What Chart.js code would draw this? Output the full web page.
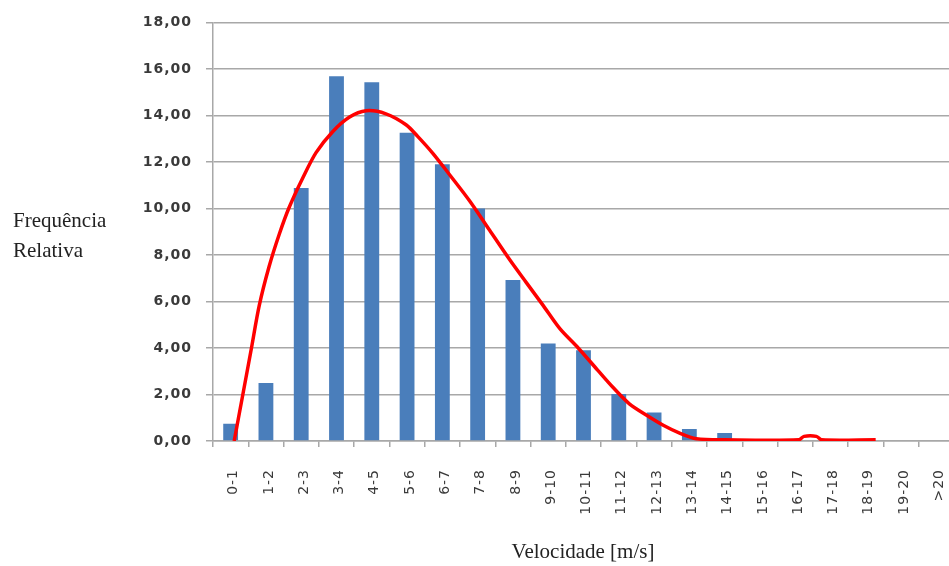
<!DOCTYPE html>
<html>
<head>
<meta charset="utf-8">
<title>Frequência relativa da velocidade do vento</title>
<script src="https://cdn.jsdelivr.net/npm/chart.js@4.4.1/dist/chart.umd.min.js"></script>
<style>
  html, body { margin: 0; padding: 0; background: #fff; overflow: hidden; }
  canvas { display: block; }
</style>
</head>
<body>
<canvas id="windChart" width="954" height="566"></canvas>
<script>
// classes de velocidade [m/s]
const classes = ["0-1", "1-2", "2-3", "3-4", "4-5", "5-6", "6-7", "7-8", "8-9", "9-10",
  "10-11", "11-12", "12-13", "13-14", "14-15", "15-16", "16-17", "17-18", "18-19", "19-20", ">20"];

// frequência relativa medida (%)
const freqMedida = [0.74, 2.49, 10.88, 15.68, 15.43, 13.26, 11.9, 10.0, 6.92, 4.19,
  3.9, 2.02, 1.23, 0.52, 0.34, 0, 0, 0, 0, 0, 0];

// curva ajustada: velocidade [m/s] e frequência (%)
const curvaVel = [0.6, 0.83, 1.09, 1.31, 1.59, 1.88, 2.16, 2.54, 2.92, 3.39, 3.86, 4.34,
  4.9, 5.47, 5.8, 6.23, 6.7, 7.27, 7.84, 8.41, 8.88, 9.36, 9.83, 10.35, 10.9, 11.34,
  11.8, 12.3, 12.76, 13.24, 13.7, 14.5, 16.6, 16.75, 17.1, 17.25, 18.78];
const curvaFreq = [0, 1.87, 4.0, 5.82, 7.5, 8.9, 10.05, 11.3, 12.4, 13.3, 13.92, 14.2,
  14.07, 13.6, 13.1, 12.37, 11.46, 10.33, 9.06, 7.79, 6.81, 5.82, 4.83, 4.0, 3.05, 2.3,
  1.6, 1.1, 0.68, 0.33, 0.1, 0.05, 0.05, 0.2, 0.2, 0.05, 0.05];

const yTicks = ["0,00", "2,00", "4,00", "6,00", "8,00", "10,00", "12,00", "14,00", "16,00", "18,00"];

const curvaPontos = curvaVel.map((v, i) => ({ x: v, y: curvaFreq[i] }));

const gridGray = "#a8a8a8";
const textGray = "#3a3a3a";

// espaçamento das letras dos eixos
const spacing = {
  id: "spacing",
  beforeLayout(chart) { chart.ctx.letterSpacing = "1px"; },
  beforeDraw(chart) { chart.ctx.letterSpacing = "1px"; }
};

// títulos dos eixos em serifa, horizontais
const axisTitles = {
  id: "axisTitles",
  afterDraw(chart) {
    const ctx = chart.ctx;
    ctx.save();
    ctx.letterSpacing = "0px";
    ctx.fillStyle = "#222";
    ctx.font = "21px 'Liberation Serif'";
    ctx.textBaseline = "alphabetic";
    ctx.textAlign = "left";
    ctx.fillText("Frequência", 13, 227);
    ctx.fillText("Relativa", 13, 257);
    ctx.textAlign = "center";
    ctx.fillText("Velocidade [m/s]", 583, 558);
    ctx.restore();
  }
};

new Chart(document.getElementById("windChart"), {
  type: "bar",
  data: {
    labels: classes,
    datasets: [
      {
        type: "line",
        data: curvaPontos,
        xAxisID: "x2",
        borderColor: "#ff0000",
        borderWidth: 3.5,
        pointRadius: 0,
        tension: 0.3,
        fill: false,
        order: 0
      },
      {
        data: freqMedida,
        backgroundColor: "#4a7ebb",
        grouped: false,
        barPercentage: 0.42,
        categoryPercentage: 1,
        order: 1
      }
    ]
  },
  options: {
    responsive: false,
    devicePixelRatio: 1,
    animation: false,
    layout: { padding: { top: 15, left: 0, right: 0, bottom: 0 } },
    plugins: {
      legend: { display: false },
      tooltip: { enabled: false }
    },
    scales: {
      x: {
        offset: true,
        grid: { drawOnChartArea: false, drawTicks: true, tickLength: 6, color: gridGray, lineWidth: 1.5 },
        border: { color: gridGray, width: 1.5 },
        ticks: {
          minRotation: 90, maxRotation: 90, autoSkip: false, padding: 22, labelOffset: 3,
          color: textGray,
          font: { family: "'DejaVu Sans'", size: 14 }
        },
        afterFit(scale) {
          scale.height = 125;
          scale.paddingLeft = 0;
          scale.paddingRight = 0;
        }
      },
      x2: {
        type: "linear",
        display: false,
        offset: false,
        min: 0,
        max: classes.length
      },
      y: {
        min: 0,
        max: 18,
        ticks: {
          stepSize: 2,
          padding: 14,
          color: textGray,
          font: { family: "'DejaVu Sans'", size: 14, weight: "bold" },
          callback: (v) => yTicks[Math.round(v / 2)]
        },
        grid: { color: gridGray, lineWidth: 1.5, tickLength: 7 },
        border: { color: gridGray, width: 1.5 },
        afterFit(scale) { scale.width = 213; }
      }
    }
  },
  plugins: [spacing, axisTitles]
});
</script>
</body>
</html>
